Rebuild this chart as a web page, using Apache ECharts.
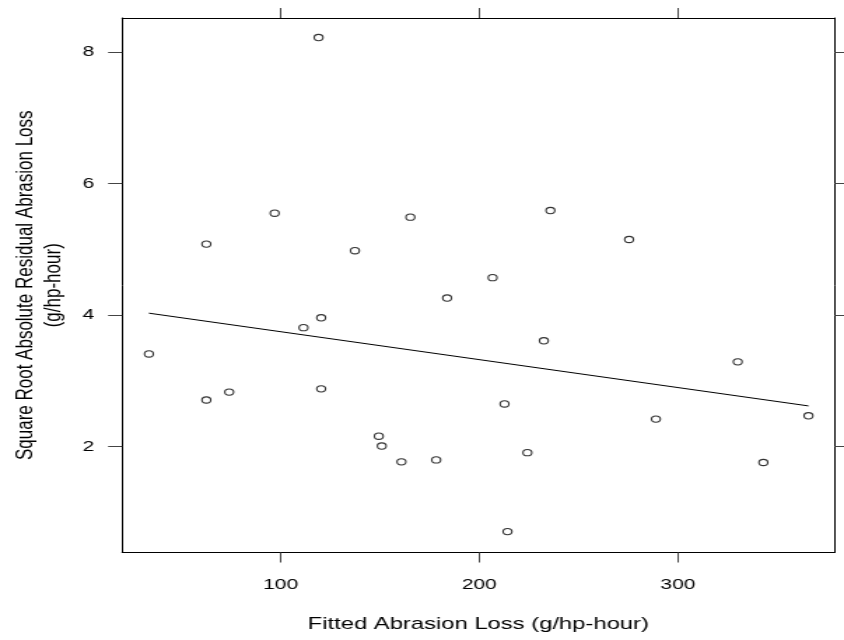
<!DOCTYPE html>
<html>
<head>
<meta charset="utf-8">
<script src="https://cdn.jsdelivr.net/npm/echarts@6/dist/echarts.min.js"></script>
<style>
html, body { margin: 0; padding: 0; background: #fff; overflow: hidden; }
#wrap { width: 844px; height: 640px; overflow: hidden; }
#chart { width: 603px; height: 640px; transform: scaleX(1.39967); transform-origin: 0 0; }
</style>
</head>
<body>
<div id="wrap"><div id="chart"></div></div>
<script>
// Fitted abrasion loss (x) vs square root absolute residual (y)
const fittedLoss = [33.7, 62.6, 62.6, 74.1, 97.0, 111.5, 119.1, 120.4, 120.4, 137.4,
  149.4, 150.9, 160.8, 165.3, 178.3, 183.8, 206.7, 212.7, 224.2, 214.2,
  232.5, 235.8, 275.4, 288.9, 330.1, 343.0, 365.7];
const sqrtAbsResid = [3.41, 5.08, 2.71, 2.83, 5.55, 3.81, 8.22, 3.96, 2.88, 4.98,
  2.16, 2.01, 1.77, 5.49, 1.80, 4.26, 4.57, 2.65, 1.91, 0.71,
  3.61, 5.59, 5.15, 2.42, 3.29, 1.76, 2.47];
// smooth (fit) line end points
const fitX = [33.7, 365.7];
const fitY = [4.03, 2.62];
// tick values
const xTicks = [100, 200, 300];
const yTicks = [2, 4, 6, 8];
const xRange = [20.2, 378.8];
const yRange = [0.392, 8.517];

const FONT = "'Liberation Sans', Arial, Helvetica, sans-serif";
const chart = echarts.init(document.getElementById('chart'), null, {renderer: 'canvas'});

const scatterData = fittedLoss.map((x, i) => [x, sqrtAbsResid[i]]);
const lineData = fitX.map((x, i) => [x, fitY[i]]);

function xAxisDef(pos, withLabels) {
  return {
    type: 'value', position: pos, min: xRange[0], max: xRange[1],
    axisLine: {show: true, onZero: false, lineStyle: {color: '#000', width: 1}},
    splitLine: {show: false},
    axisTick: {show: true, inside: false, length: 10, customValues: xTicks, lineStyle: {color: '#444', width: 1}},
    axisLabel: withLabels ? {show: true, customValues: xTicks, margin: 25, fontSize: 15, color: '#000', fontFamily: FONT} : {show: false},
    name: withLabels ? 'Fitted Abrasion Loss (g/hp-hour)' : '',
    nameLocation: 'middle', nameGap: 63,
    nameTextStyle: {fontSize: 17, color: '#000', fontFamily: FONT}
  };
}
function yAxisDef(pos, withLabels) {
  return {
    type: 'value', position: pos, min: yRange[0], max: yRange[1],
    axisLine: {show: true, onZero: false, lineStyle: {color: '#000', width: 1}},
    splitLine: {show: false},
    axisTick: {show: true, inside: false, length: 10, customValues: yTicks, lineStyle: {color: '#444', width: 1}},
    axisLabel: withLabels ? {show: true, customValues: yTicks, margin: 20, fontSize: 15, color: '#000', fontFamily: FONT} : {show: false},
    name: withLabels ? 'Square Root Absolute Residual Abrasion Loss\n(g/hp-hour)' : '',
    nameLocation: 'middle', nameGap: 36, nameRotate: 90,
    nameTextStyle: {fontSize: 17, lineHeight: 20, color: '#000', fontFamily: FONT}
  };
}

chart.setOption({
  animation: false,
  backgroundColor: '#fff',
  grid: {left: 82.2, right: 6.8, top: 18, bottom: 87.5, containLabel: false},
  xAxis: [xAxisDef('bottom', true), xAxisDef('top', false)],
  yAxis: [yAxisDef('left', true), yAxisDef('right', false)],
  series: [
    {
      type: 'scatter', xAxisIndex: 0, yAxisIndex: 0,
      data: scatterData, symbol: 'circle', symbolSize: 6.3,
      itemStyle: {color: 'rgba(255,255,255,0)', borderColor: '#000', borderWidth: 1.1}
    },
    {
      type: 'line', xAxisIndex: 0, yAxisIndex: 0,
      data: lineData, symbol: 'none', silent: true,
      lineStyle: {color: '#000', width: 1}
    }
  ]
});
</script>
</body>
</html>
